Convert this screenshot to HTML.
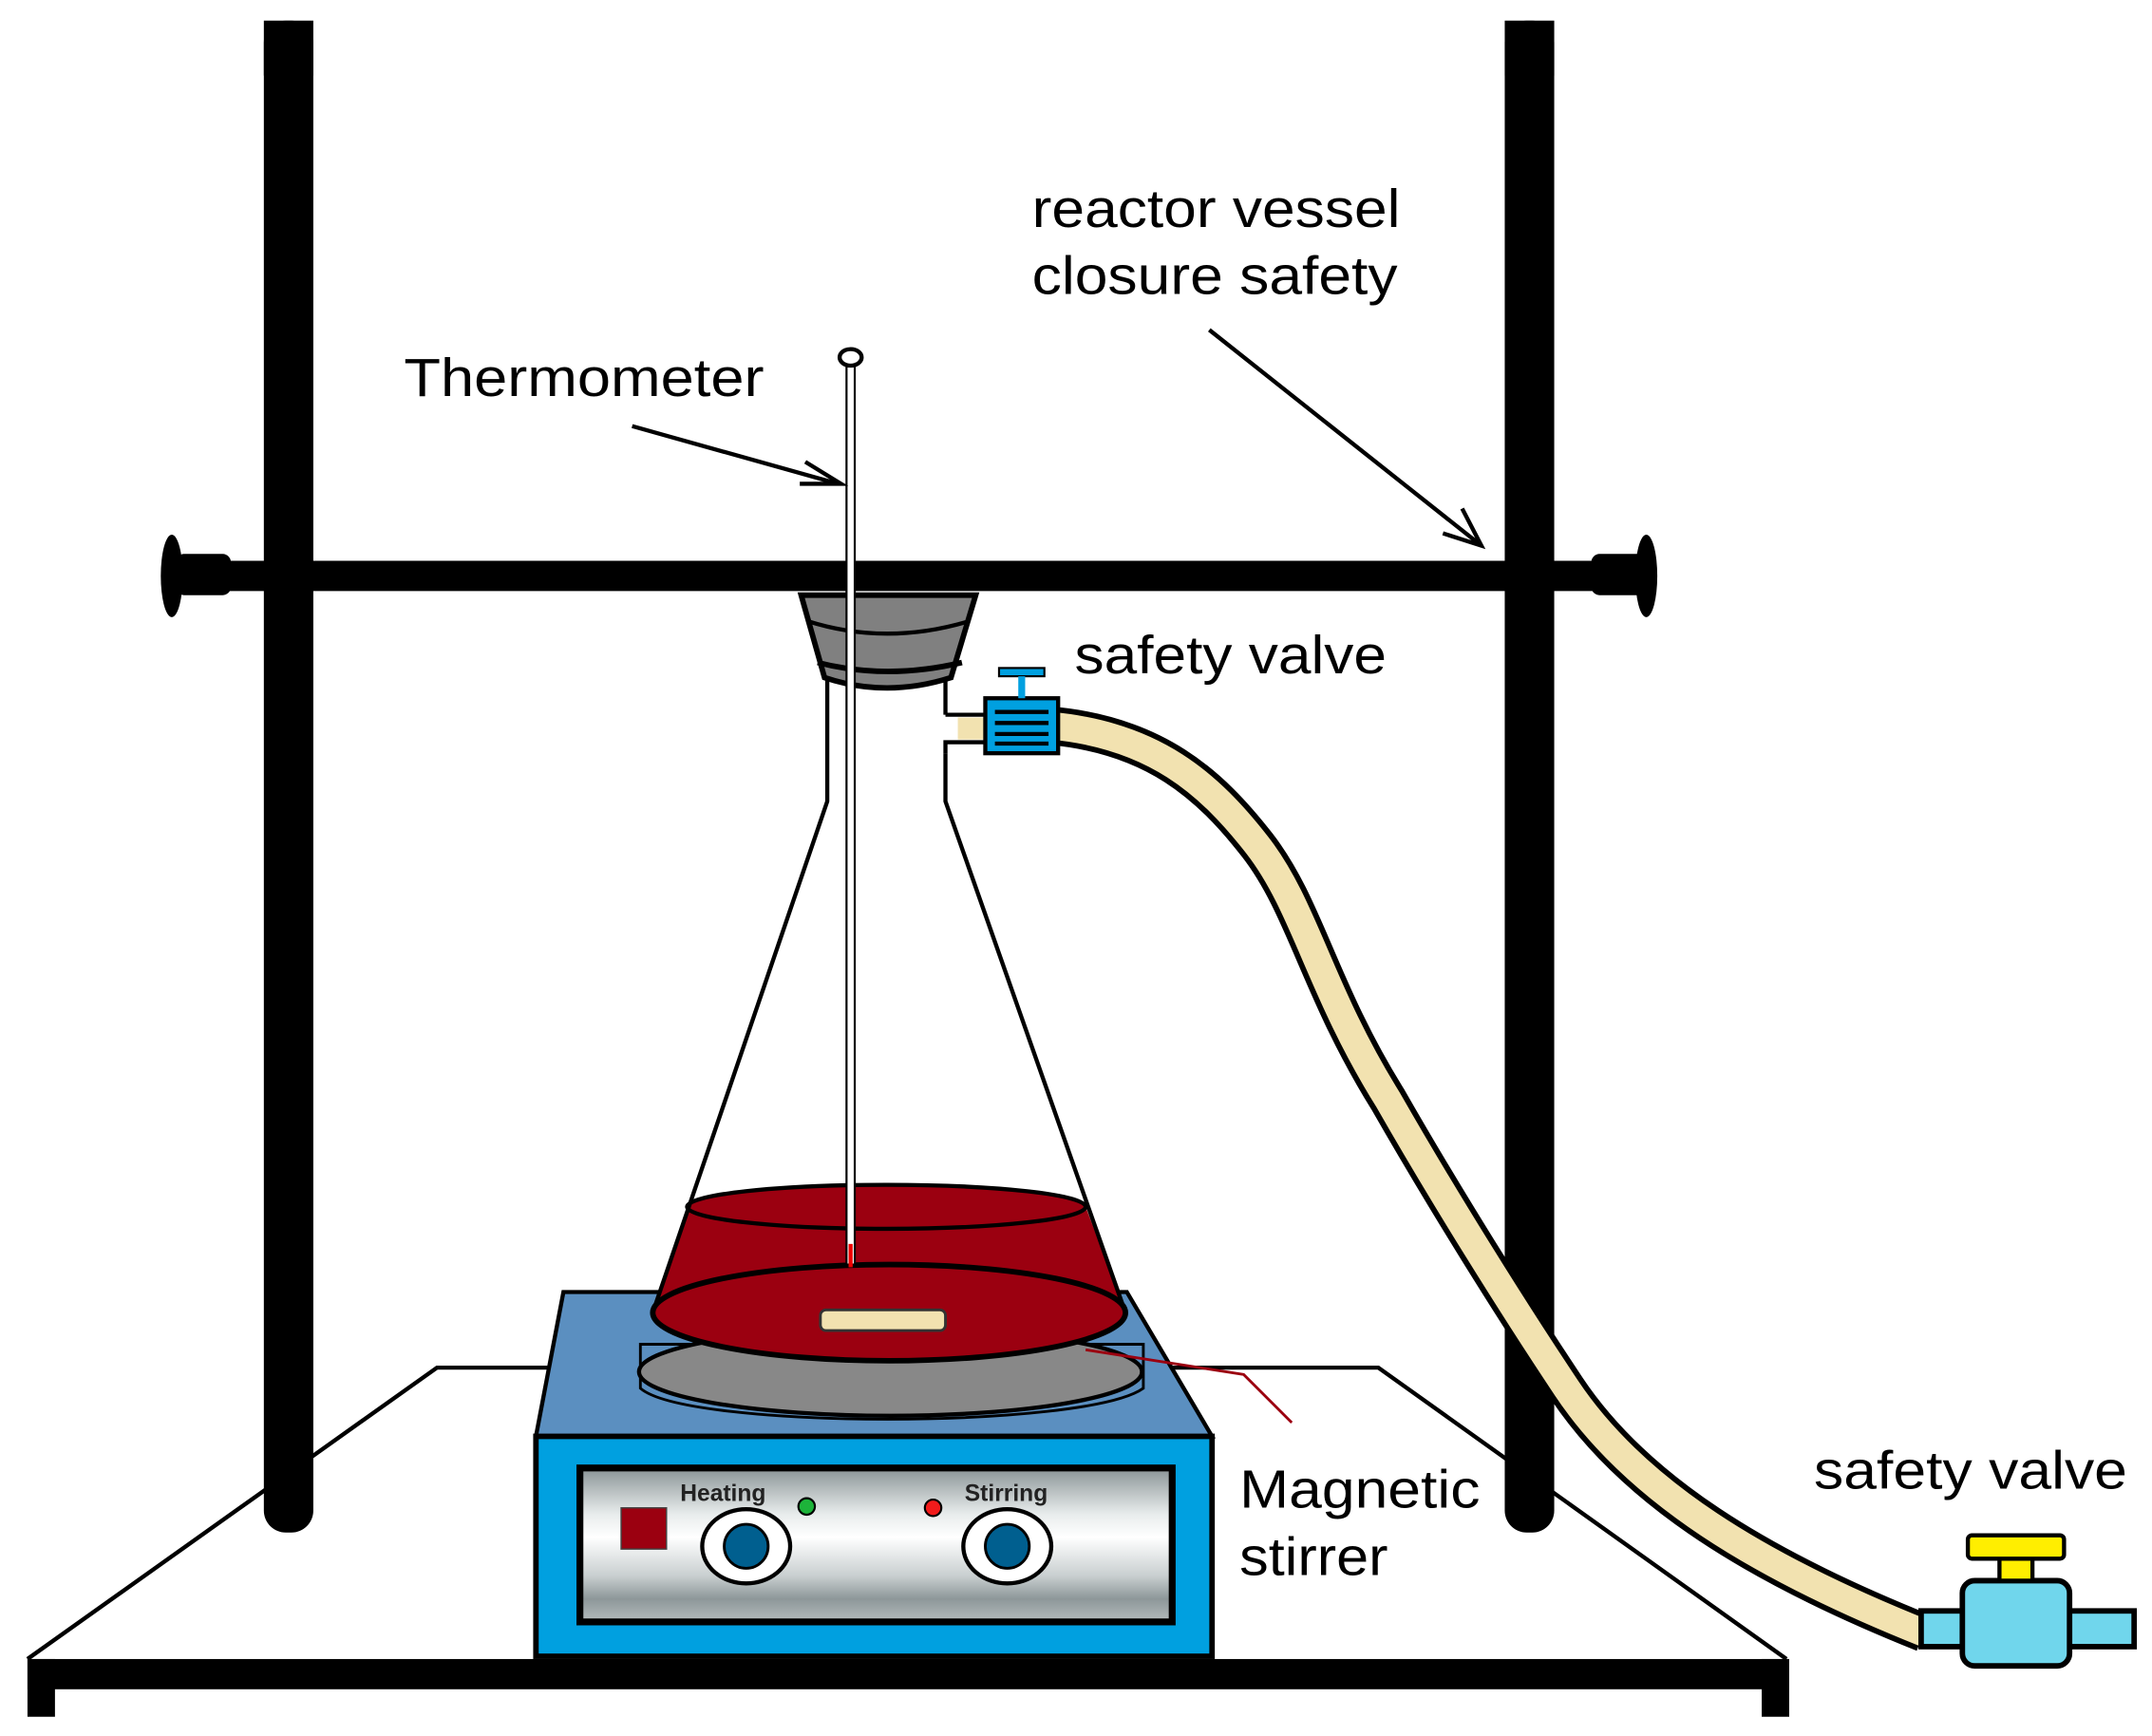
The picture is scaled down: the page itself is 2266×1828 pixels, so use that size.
<!DOCTYPE html>
<html><head><meta charset="utf-8"><style>html,body{margin:0;padding:0;background:#fff}svg{display:block}</style></head>
<body>
<svg width="2266" height="1828" viewBox="0 0 1566 1263" preserveAspectRatio="none" xmlns="http://www.w3.org/2000/svg" font-family="Liberation Sans, sans-serif">
<defs>
<linearGradient id="silver" x1="0" y1="0" x2="0" y2="1">
<stop offset="0" stop-color="#8a9496"/><stop offset="0.3" stop-color="#e8ecec"/><stop offset="0.45" stop-color="#ffffff"/><stop offset="0.7" stop-color="#c9cfd0"/><stop offset="0.85" stop-color="#8d9799"/><stop offset="1" stop-color="#b5bcbd"/>
</linearGradient>
</defs>
<!-- table -->
<polyline points="20,1207 318,995 1003,995 1300,1207" fill="none" stroke="#000" stroke-width="3"/>
<rect x="20" y="1207" width="1282" height="22" fill="#000"/>
<rect x="20" y="1207" width="20" height="42" fill="#000"/>
<rect x="1282" y="1207" width="20" height="42" fill="#000"/>
<!-- poles -->
<rect x="192" y="15" width="36" height="1100" rx="16" fill="#000"/>
<rect x="192" y="15" width="36" height="40" fill="#000"/>
<rect x="1095" y="15" width="36" height="1100" rx="16" fill="#000"/>
<rect x="1095" y="15" width="36" height="40" fill="#000"/>
<!-- crossbar -->
<rect x="160" y="408" width="1030" height="22" fill="#000"/>
<rect x="128" y="403" width="40" height="30" rx="6" fill="#000"/>
<ellipse cx="125" cy="419" rx="8" ry="30" fill="#000"/>
<rect x="1158" y="403" width="40" height="30" rx="6" fill="#000"/>
<ellipse cx="1198" cy="419" rx="8" ry="30" fill="#000"/>
<!-- hose -->
<path d="M765,528 C840,535 880,570 915,615 C950,660 960,720 1010,800 C1050,870 1100,950 1140,1010 C1190,1085 1280,1140 1400,1188" fill="none" stroke="#000" stroke-width="28"/>
<path d="M765,528 C840,535 880,570 915,615 C950,660 960,720 1010,800 C1050,870 1100,950 1140,1010 C1190,1085 1280,1140 1400,1188" fill="none" stroke="#f2e2b0" stroke-width="20"/>
<!-- stirrer -->
<polygon points="410,940 820,940 882,1045 390,1045" fill="#5b8fc0" stroke="#000" stroke-width="3"/>
<rect x="390" y="1045" width="492" height="160" fill="#00a0e0" stroke="#000" stroke-width="4"/>
<rect x="422" y="1068" width="431" height="112" fill="url(#silver)" stroke="#000" stroke-width="5"/>
<rect x="452" y="1097" width="33" height="30" fill="#9b0010" stroke="#444" stroke-width="1"/>
<ellipse cx="543" cy="1125" rx="32" ry="27" fill="#fff" stroke="#000" stroke-width="3"/>
<circle cx="543" cy="1125" r="16" fill="#005f8f" stroke="#000" stroke-width="2"/>
<ellipse cx="733" cy="1125" rx="32" ry="27" fill="#fff" stroke="#000" stroke-width="3"/>
<circle cx="733" cy="1125" r="16" fill="#005f8f" stroke="#000" stroke-width="2"/>
<circle cx="587" cy="1096" r="6" fill="#1db33a" stroke="#000" stroke-width="1.5"/>
<circle cx="679" cy="1097" r="6" fill="#f21b1b" stroke="#000" stroke-width="1.5"/>
<text x="495" y="1092" font-size="17" font-weight="bold" fill="#222">Heating</text>
<text x="702" y="1092" font-size="17" font-weight="bold" fill="#222">Stirring</text>
<!-- plate -->
<path d="M466,978 L466,1010 C500,1040 790,1040 832,1010 L832,978 Z" fill="#5b8fc0" stroke="#000" stroke-width="2"/>
<ellipse cx="648" cy="998" rx="183" ry="32" fill="#888" stroke="#000" stroke-width="3"/>
<!-- flask liquid -->
<path d="M500,878 L475,955 A172,35 0 0 0 819,955 L790,878 Z" fill="#9b0010"/>
<ellipse cx="645" cy="878" rx="145" ry="16" fill="#9b0010" stroke="#000" stroke-width="3"/>
<ellipse cx="647" cy="955" rx="172" ry="35" fill="#9b0010" stroke="#000" stroke-width="4"/>
<!-- flask outline -->
<polyline points="602,495 602,583 475,955" fill="none" stroke="#000" stroke-width="3"/>
<polyline points="688,548 688,583 819,955" fill="none" stroke="#000" stroke-width="3"/>
<line x1="688" y1="495" x2="688" y2="520" stroke="#000" stroke-width="3"/>
<polyline points="688,520 717,520" fill="none" stroke="#000" stroke-width="3"/>
<polyline points="688,548 688,540 717,540" fill="none" stroke="#000" stroke-width="3"/>
<rect x="697" y="522" width="20" height="16" fill="#f2e2b0"/>
<!-- stir bar -->
<rect x="597" y="953" width="91" height="15" rx="4" fill="#f2e2b0" stroke="#333" stroke-width="2"/>
<polyline points="790,982 905,1000 940,1035" fill="none" stroke="#9b0010" stroke-width="2"/>
<!-- stopper -->
<path d="M583,433 L710,433 L692,493 Q645,508 600,493 Z" fill="#808080" stroke="#000" stroke-width="4"/>
<path d="M588,452 Q645,470 705,452" fill="none" stroke="#000" stroke-width="3"/>
<path d="M595,482 Q645,495 700,482" fill="none" stroke="#000" stroke-width="4"/>
<!-- thermometer -->
<rect x="616" y="262" width="6" height="658" fill="#fff" stroke="#000" stroke-width="1.5"/>
<line x1="619" y1="905" x2="619" y2="922" stroke="#e00" stroke-width="3"/>
<ellipse cx="619" cy="260" rx="8" ry="6" fill="#fff" stroke="#000" stroke-width="3"/>
<!-- valve 1 -->
<rect x="717" y="508" width="53" height="40" fill="#00a0e0" stroke="#000" stroke-width="3"/>
<rect x="727" y="486" width="33" height="6" fill="#00a0e0" stroke="#000" stroke-width="1.5"/>
<rect x="741" y="492" width="5" height="16" fill="#00a0e0"/>
<g stroke="#000" stroke-width="3"><line x1="724" y1="518" x2="763" y2="518"/><line x1="724" y1="526" x2="763" y2="526"/><line x1="724" y1="534" x2="763" y2="534"/><line x1="724" y1="541" x2="763" y2="541"/></g>
<!-- valve 2 -->
<rect x="1398" y="1172" width="155" height="26" fill="#70d6ec" stroke="#000" stroke-width="4"/>
<rect x="1428" y="1150" width="78" height="62" rx="9" fill="#70d6ec" stroke="#000" stroke-width="4"/>
<rect x="1455" y="1130" width="24" height="20" fill="#ffee00" stroke="#000" stroke-width="3"/>
<rect x="1432" y="1117" width="70" height="17" rx="3" fill="#ffee00" stroke="#000" stroke-width="3"/>
<!-- arrows -->
<line x1="460" y1="310" x2="610" y2="352" stroke="#000" stroke-width="3"/>
<polyline points="586,336 612,352 582,352" fill="none" stroke="#000" stroke-width="3"/>
<line x1="880" y1="240" x2="1078" y2="397" stroke="#000" stroke-width="3"/>
<polyline points="1064,370 1078,397 1050,388" fill="none" stroke="#000" stroke-width="3"/>
<!-- labels -->
<g font-size="39" fill="#000" lengthAdjust="spacingAndGlyphs">
<text x="294" y="288" textLength="262" lengthAdjust="spacingAndGlyphs">Thermometer</text>
<text x="751" y="165" textLength="268" lengthAdjust="spacingAndGlyphs">reactor vessel</text>
<text x="751" y="214" textLength="266" lengthAdjust="spacingAndGlyphs">closure safety</text>
<text x="782" y="490" textLength="227" lengthAdjust="spacingAndGlyphs">safety valve</text>
<text x="902" y="1097" textLength="175" lengthAdjust="spacingAndGlyphs">Magnetic</text>
<text x="902" y="1146" textLength="108" lengthAdjust="spacingAndGlyphs">stirrer</text>
<text x="1320" y="1083" textLength="228" lengthAdjust="spacingAndGlyphs">safety valve</text>
</g>
</svg>
</body></html>
